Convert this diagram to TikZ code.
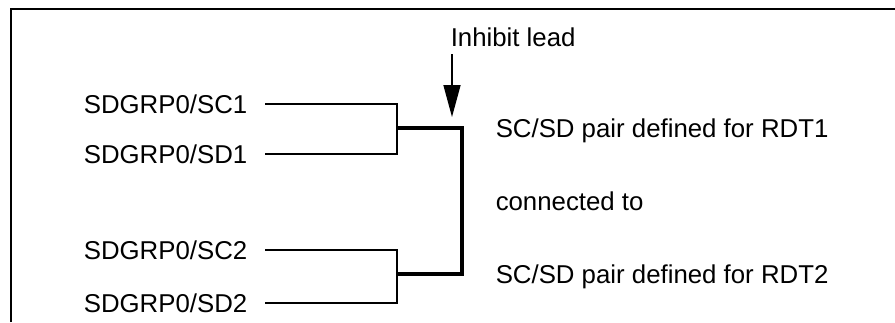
\documentclass[tikz,border=0pt]{standalone}
\usepackage{fontspec}
\setmainfont{Liberation Sans}
\usetikzlibrary{arrows.meta,positioning}

\begin{document}
\begin{tikzpicture}[x=0.5pt,y=-0.5pt,line width=0.75pt,
                    every node/.style={inner sep=0pt,font=\fontsize{12.9}{15}\selectfont}]
  \tikzstyle{grp}=[anchor=base east,inner xsep=8.5pt]
  \tikzstyle{note}=[anchor=base west]
  \tikzstyle{lead}=[line width=2pt,line join=miter]

  \useasboundingbox (0,0) rectangle (895,322);
  \draw (11,322) -- (11,9) -- (895,9);

    \node[grp]  (sc1) at (265,113) {SDGRP0/SC1};
    \node[grp]  (sd1) [below = 25pt of sc1.base east, anchor=base east] {SDGRP0/SD1};
    \node[grp]  (sc2) at (265,259) {SDGRP0/SC2};
    \node[grp]  (sd2) [below = 26.5pt of sc2.base east, anchor=base east] {SDGRP0/SD2};

    \node[note] (inhibit) at (450,46) {Inhibit lead};
    \node[note] (rdt1) at (495,137) {SC/SD pair defined for RDT1};
    \node[note] (conn) [below = 36.5pt of rdt1.base west, anchor=base west] {connected to};
    \node[note] (rdt2) [below = 36.5pt of conn.base west, anchor=base west] {SC/SD pair defined for RDT2};

    \coordinate (j1)  at (397,128);
    \coordinate (j2)  at (397,274);
    \coordinate (k)   at (462,200);
    \coordinate (tip) at (452,117);

  \draw (sc1.east) -| (j1) |- (sd1.east);
  \draw (sc2.east) -| (j2) |- (sd2.east);
  \draw[lead] (j1) -| (k) |- (j2);
  \draw[-{Triangle[length=16pt,width=8.5pt]},shorten <=3.5pt] (tip |- inhibit.south) -- (tip);

\end{tikzpicture}
\end{document}
